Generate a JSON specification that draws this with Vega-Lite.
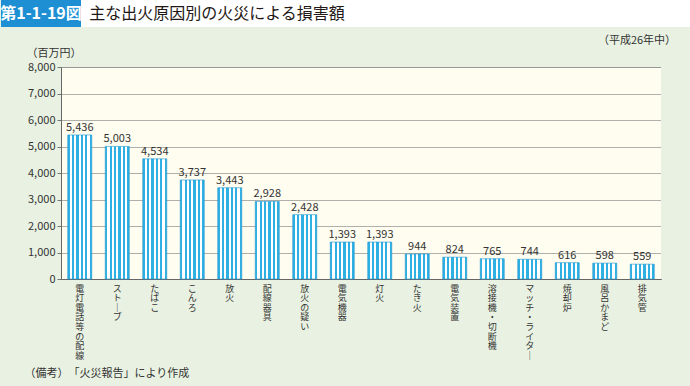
{
  "$schema": "https://vega.github.io/schema/vega-lite/v6.json",
  "background": "#e9f2e2",
  "padding": 0,
  "autosize": {"type": "pad"},
  "spacing": 0,
  "config": {
    "font": "Noto Sans CJK JP",
    "view": {"stroke": null},
    "concat": {"spacing": 0}
  },
  "vconcat": [
    {
      "bounds": "flush",
      "spacing": 0,
      "hconcat": [
        {
          "width": 80,
          "height": 27,
          "view": {"fill": "#1e8fd2", "stroke": null},
          "data": {"values": [{"t": "第1-1-19図"}]},
          "mark": {"type": "text", "color": "#ffffff", "fontSize": 16, "fontWeight": "bold", "baseline": "middle", "align": "center"},
          "encoding": {"text": {"field": "t"}}
        },
        {
          "width": 272,
          "height": 27,
          "view": {"fill": "#ffffff", "stroke": null},
          "data": {"values": [{"t": "主な出火原因別の火災による損害額"}]},
          "mark": {"type": "text", "color": "#231815", "fontSize": 16, "baseline": "middle", "align": "center"},
          "encoding": {"text": {"field": "t"}}
        },
        {
          "width": 338,
          "height": 27,
          "view": {"fill": "#ffffff", "stroke": null},
          "data": {"values": [{"t": ""}]},
          "mark": {"type": "text"},
          "encoding": {"text": {"field": "t"}}
        }
      ]
    },
    {
      "bounds": "flush",
      "spacing": 0,
      "hconcat": [
        {
          "width": 596,
          "height": 15,
          "view": {"fill": "#e9f2e2", "stroke": null},
          "data": {"values": [{"t": ""}]},
          "mark": {"type": "text"},
          "encoding": {"text": {"field": "t"}}
        },
        {
          "width": 80,
          "height": 15,
          "view": {"fill": "#e9f2e2", "stroke": null},
          "data": {"values": [{"t": "（平成26年中）"}]},
          "mark": {"type": "text", "color": "#333333", "fontSize": 11, "baseline": "top", "align": "center"},
          "encoding": {"text": {"field": "t"}}
        },
        {
          "width": 14,
          "height": 15,
          "view": {"fill": "#e9f2e2", "stroke": null},
          "data": {"values": [{"t": ""}]},
          "mark": {"type": "text"},
          "encoding": {"text": {"field": "t"}}
        }
      ]
    },
    {
      "bounds": "flush",
      "spacing": 0,
      "hconcat": [
        {
          "width": 60,
          "height": 212,
          "view": {"fill": "#e9f2e2", "stroke": null},
          "data": {"values": [{"t": ""}]},
          "mark": {"type": "text"},
          "encoding": {"text": {"field": "t"}}
        },
        {
          "width": 600,
          "height": 212,
          "view": {"fill": "#fffdf0", "stroke": "#8c8c8c", "strokeWidth": 1},
          "data": {
            "values": [
              {"cause": "電灯電話等の配線", "amount": 5436},
              {"cause": "ストーブ", "amount": 5003},
              {"cause": "たばこ", "amount": 4534},
              {"cause": "こんろ", "amount": 3737},
              {"cause": "放火", "amount": 3443},
              {"cause": "配線器具", "amount": 2928},
              {"cause": "放火の疑い", "amount": 2428},
              {"cause": "電気機器", "amount": 1393},
              {"cause": "灯火", "amount": 1393},
              {"cause": "たき火", "amount": 944},
              {"cause": "電気装置", "amount": 824},
              {"cause": "溶接機・切断機", "amount": 765},
              {"cause": "マッチ・ライター", "amount": 744},
              {"cause": "焼却炉", "amount": 616},
              {"cause": "風呂かまど", "amount": 598},
              {"cause": "排気管", "amount": 559}
            ]
          },
          "encoding": {
            "x": {
              "field": "cause",
              "type": "nominal",
              "sort": null,
              "scale": {"paddingInner": 0.36, "paddingOuter": 0.18},
              "axis": {
                "title": "（備考）　「火災報告」により作成",
                "titleAlign": "left",
                "titleAnchor": "start",
                "titleBaseline": "middle",
                "titleX": -37,
                "titleY": 94,
                "titleFontSize": 11,
                "titleFontWeight": "normal",
                "titleColor": "#333333",
                "labelExpr": "split(replace(datum.label, 'ー', '｜'), '')",
                "labelAngle": 0,
                "labelAlign": "center",
                "labelBaseline": "top",
                "labelFontSize": 9,
                "labelLineHeight": 9.6,
                "labelColor": "#333333",
                "labelPadding": 5,
                "labelOverlap": false,
                "ticks": false,
                "domainColor": "#666666",
                "grid": false
              }
            },
            "y": {
              "field": "amount",
              "type": "quantitative",
              "scale": {"domain": [0, 8000]},
              "axis": {
                "values": [0, 1000, 2000, 3000, 4000, 5000, 6000, 7000, 8000],
                "format": ",d",
                "title": "（百万円）",
                "titleAngle": 0,
                "titleAlign": "left",
                "titleBaseline": "bottom",
                "titleX": -35,
                "titleY": -9,
                "titleFontSize": 11,
                "titleFontWeight": "normal",
                "titleColor": "#333333",
                "labelFontSize": 11,
                "labelColor": "#333333",
                "labelPadding": 2,
                "tickColor": "#777777",
                "tickSize": 4,
                "domainColor": "#666666",
                "gridColor": "#9a9a9a",
                "gridWidth": 0.8
              }
            }
          },
          "layer": [
            {
              "mark": {
                "type": "bar",
                "stroke": "#1e96d0",
                "strokeWidth": 0.6,
                "color": {
                  "gradient": "linear",
                  "x1": 0, "x2": 1, "y1": 0, "y2": 0,
                  "stops": [
                    {"offset": 0, "color": "#2fb0e3"},
                    {"offset": 0.0909, "color": "#2fb0e3"},
                    {"offset": 0.0909, "color": "#ffffff"},
                    {"offset": 0.1818, "color": "#ffffff"},
                    {"offset": 0.1818, "color": "#2fb0e3"},
                    {"offset": 0.2727, "color": "#2fb0e3"},
                    {"offset": 0.2727, "color": "#ffffff"},
                    {"offset": 0.3636, "color": "#ffffff"},
                    {"offset": 0.3636, "color": "#2fb0e3"},
                    {"offset": 0.4545, "color": "#2fb0e3"},
                    {"offset": 0.4545, "color": "#ffffff"},
                    {"offset": 0.5454, "color": "#ffffff"},
                    {"offset": 0.5454, "color": "#2fb0e3"},
                    {"offset": 0.6363, "color": "#2fb0e3"},
                    {"offset": 0.6363, "color": "#ffffff"},
                    {"offset": 0.7272, "color": "#ffffff"},
                    {"offset": 0.7272, "color": "#2fb0e3"},
                    {"offset": 0.8181, "color": "#2fb0e3"},
                    {"offset": 0.8181, "color": "#ffffff"},
                    {"offset": 0.909, "color": "#ffffff"},
                    {"offset": 0.909, "color": "#2fb0e3"},
                    {"offset": 1, "color": "#2fb0e3"}
                  ]
                }
              }
            },
            {
              "mark": {"type": "text", "baseline": "bottom", "dy": -2, "fontSize": 11, "color": "#333333"},
              "encoding": {"text": {"field": "amount", "type": "quantitative", "format": ","}}
            }
          ]
        },
        {
          "width": 30,
          "height": 212,
          "view": {"fill": "#e9f2e2", "stroke": null},
          "data": {"values": [{"t": ""}]},
          "mark": {"type": "text"},
          "encoding": {"text": {"field": "t"}}
        }
      ]
    },
    {
      "width": 690,
      "height": 7,
      "view": {"fill": "#e9f2e2", "stroke": null},
      "data": {"values": [{"t": ""}]},
      "mark": {"type": "text"},
      "encoding": {"text": {"field": "t"}}
    }
  ]
}
